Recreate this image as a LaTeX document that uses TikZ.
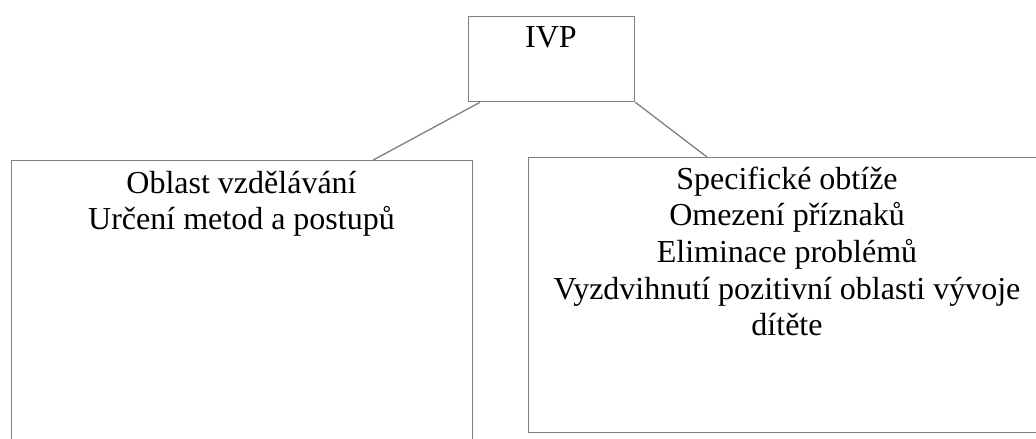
\documentclass[tikz,border=0pt]{standalone}
\usepackage{fontspec}
\setmainfont{Liberation Serif}
\begin{document}
\begin{tikzpicture}[x=1pt,y=-1pt,
  box/.style={draw=black!50, line width=1.3pt, rectangle, inner sep=0pt, anchor=north west},
  conn/.style={draw=black!50, line width=1.3pt},
  txt/.style={anchor=base, inner sep=0pt, font=\fontsize{32}{36.7}\selectfont}]
\useasboundingbox (0,0) rectangle (1036,439);
\clip (0,0) rectangle (1036,439);
% boxes
\node[box, minimum width=166pt, minimum height=85pt] (ivp) at (468,16) {};
\node[box, minimum width=461pt, minimum height=320pt] (left) at (11,160) {};
\node[box, minimum width=518pt, minimum height=275pt] (right) at (528,157) {};
% connectors
\draw[conn] ([xshift=12pt]ivp.south west) -- ([xshift=-100pt]left.north east);
\draw[conn] (ivp.south east) -- ([xshift=179pt]right.north west);
% texts
\node[txt] (tivp) at (551,47) {IVP};
\node[txt] (l1) at (241.5,193) {Oblast vzdělávání};
\node[txt] (l2) at (241.5,229) {Určení metod a postupů};
\node[txt] (r1) at (787,189) {Specifické obtíže};
\node[txt] (r2) at (787,225.7) {Omezení příznaků};
\node[txt] (r3) at (787,262.4) {Eliminace problémů};
\node[txt] (r4) at (787,299.1) {Vyzdvihnutí pozitivní oblasti vývoje};
\node[txt] (r5) at (787,335.8) {dítěte};
\end{tikzpicture}
\end{document}
